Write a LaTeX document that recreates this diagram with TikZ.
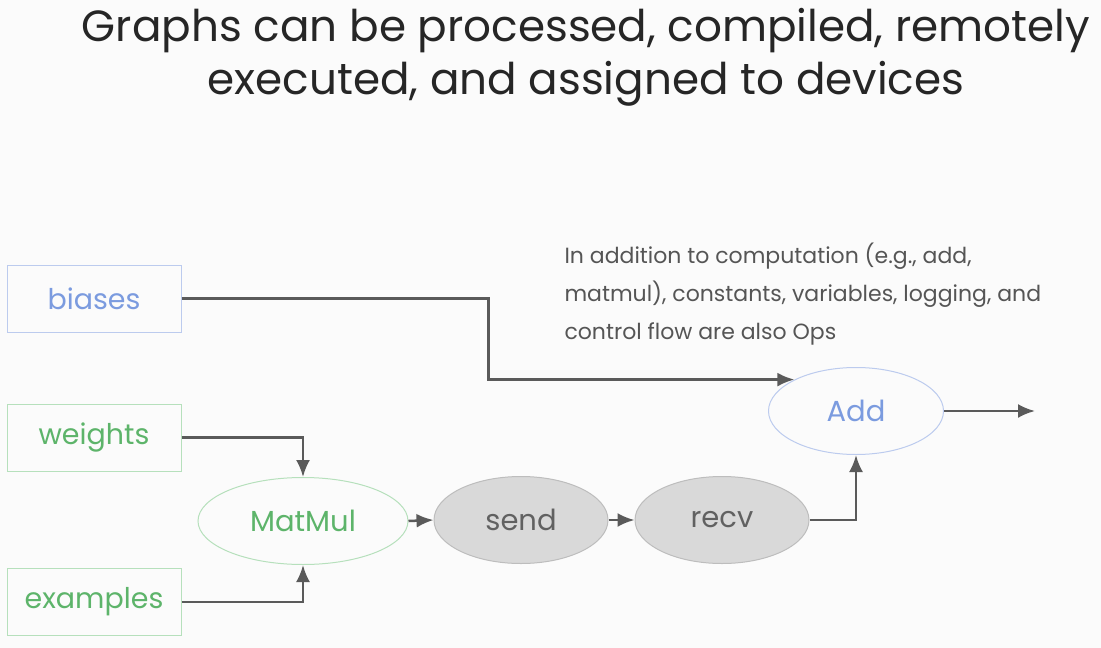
\documentclass[tikz,border=0pt]{standalone}
\usepackage{fontspec}
\setmainfont{Poppins}
\usetikzlibrary{shapes.geometric,arrows.meta}
\definecolor{opblue}{HTML}{7B9BDF}
\definecolor{opgreen}{HTML}{5DB46A}
\definecolor{edgeblue}{HTML}{BCCBEE}
\definecolor{edgegreen}{HTML}{B6E0BC}
\definecolor{devfill}{HTML}{D9D9D9}
\definecolor{devedge}{HTML}{BDBDBD}
\definecolor{devtext}{HTML}{616161}
\definecolor{flowgray}{HTML}{5A5A5A}
\definecolor{notegray}{HTML}{555555}
\definecolor{titlegray}{HTML}{262626}
\newcommand\bgcol{gray!3}

\begin{document}
\begin{tikzpicture}[x=1pt, y=-1pt,
    tensor/.style={draw, rectangle, minimum width=174pt, minimum height=67pt,
      inner sep=0pt, line width=1pt, font=\fontsize{28.5}{32}\selectfont},
    op/.style={draw, ellipse, minimum height=87pt, inner sep=0pt,
      line width=1pt, font=\fontsize{29}{32}\selectfont},
    device/.style={op, fill=devfill, draw=devedge, text=devtext},
    flow/.style={-{Latex[length=17pt,width=14pt]}, draw=flowgray, line width=2.5pt}
  ]
    \useasboundingbox[fill=\bgcol] (0,0) rectangle (1101,648);

    % title
    \node[anchor=north, align=center, text=titlegray,
      font=\fontsize{43.7}{53}\selectfont] (title) at (586,5)
      {Graphs can be processed, compiled, remotely\\executed, and assigned to devices};

    % inputs
    \node[tensor, draw=edgeblue, text=opblue] (biases) at (94,298.5) {biases};
    \node[tensor, draw=edgegreen, text=opgreen] (weights) at (94,437.5) {weights};
    \node[tensor, draw=edgegreen, text=opgreen] (examples) at (94,602) {examples};

    % ops
    \node[op, draw=edgegreen, text=opgreen, minimum width=210pt] (matmul) at (303,521) {MatMul};
    \node[device, minimum width=174pt] (send) at (521,520) {send};
    \node[device, minimum width=174pt] (recv) at (722,520) {recv};
    \node[op, draw=edgeblue, text=opblue, minimum width=175pt] (add) at (856,411) {Add};
    \coordinate (out) at (1035,411);

    \node[anchor=north west, align=left, text=notegray,
      font=\fontsize{22}{38}\selectfont] (note) at (561,239)
      {In addition to computation (e.g., add,\\matmul), constants, variables, logging, and\\control flow are also Ops};

    % edges
    \draw[flow] (biases.east) -- ++(307,0) |- (add.153);
    \draw[flow] (weights.east) -| (matmul.north);
    \draw[flow] (examples.east) -| (matmul.south);
    \draw[flow] (matmul.east) -- (send.west);
    \draw[flow] (send.east) -- (recv.west);
    \draw[flow] (recv.east) -| (add.south);
    \draw[flow] (add.east) -- (out);

  \end{tikzpicture}
\end{document}
